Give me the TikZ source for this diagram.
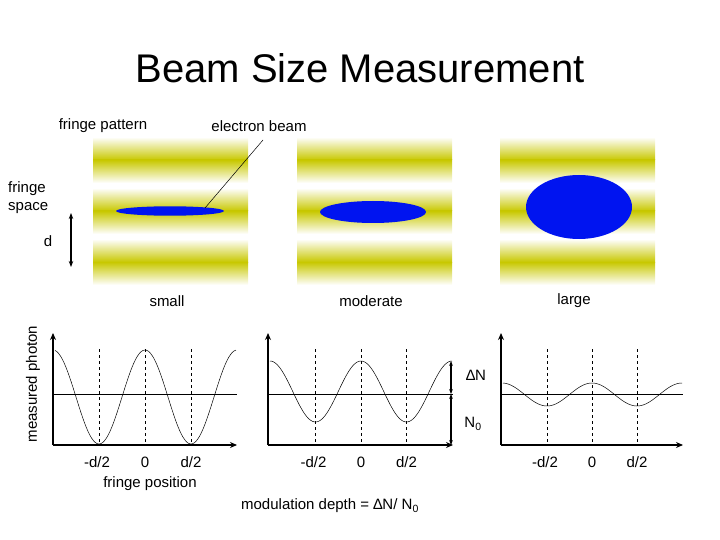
\documentclass[tikz,border=0pt]{standalone}
\usepackage{fontspec}
\setmainfont{Liberation Sans}
\usetikzlibrary{arrows.meta,shapes.geometric}
\definecolor{fy}{RGB}{200,200,0}
\definecolor{bb}{RGB}{0,20,240}
\tikzset{
 lbl/.style={font=\fontsize{15}{18}\selectfont, inner sep=0pt},
 axis/.style={line width=1.6pt,-{Stealth[length=7pt,width=6pt]}},
 dsh/.style={dashed, line width=0.5pt},
 curve/.style={line width=0.5pt},
 beam/.style={fill=bb, draw=none}
}
\begin{document}
\begin{tikzpicture}[x=1pt,y=-1pt]
\useasboundingbox (0,0) rectangle (720,540);
\node[font=\fontsize{40}{44}\selectfont] (title) at (360,68) {Beam Size Measurement};
% fringe panels
\foreach \px in {93,297,500}{
  \foreach \c in {160,211,262}{
    \shade[top color=white,bottom color=fy] (\px,\c-23) rectangle (\px+155,\c);
    \shade[top color=fy,bottom color=white] (\px,\c) rectangle (\px+155,\c+23);
  }
}
\node[beam, ellipse, minimum width=108pt, minimum height=8pt] (e1) at (170,211) {};
\node[beam, ellipse, minimum width=106pt, minimum height=22pt] (e2) at (373,212) {};
\node[beam, ellipse, minimum width=106pt, minimum height=64pt] (e3) at (579,207) {};
\node[lbl] (fp) at (103,126) {fringe pattern};
\node[lbl] (eb) at (259,126) {electron beam};
\coordinate (ebt) at (263,140);
\coordinate (ebe) at (205,208);
\draw[line width=0.5pt] (ebt) -- (ebe);
\node[lbl, align=left, anchor=west] (fs) at (8,198) {fringe\\space};
\node[lbl] (d) at (48,241) {d};
\coordinate (da) at (71,213); \coordinate (db) at (71,267);
\draw[line width=1.2pt,{Stealth[length=6pt]}-{Stealth[length=6pt]}] (da) -- (db);
\node[lbl] (s) at (167,301) {small};
\node[lbl] (m) at (371,301) {moderate};
\node[lbl] (l) at (574,301) {large};
\node[lbl, rotate=90] (mp) at (33,384) {measured photon};
% plots
\foreach \ox/\ex/\cx/\amp/\per/\mdl in {53/237/145/47/92/397, 268/453/361/30.5/91/391.5, 501/683/592/11.5/90/394.5}{
  \draw[line width=0.5pt] (\ox,394) -- (\ex,394);
  \foreach \k in {-1,0,1} \draw[dsh] (\cx+\k*\per/2,349) -- (\cx+\k*\per/2,445);
  \draw[curve] plot[domain=\ox+2:\ex-1,samples=100] (\x,{\mdl-\amp*cos((\x-\cx)/\per*360)});
  \draw[axis] (\ox,445) -- (\ox,333);
  \draw[axis] (\ox,445) -- (\ex,445);
  \node[lbl] at (\cx-\per/2-2,462) {-d/2};
  \node[lbl] at (\cx,462) {0};
  \node[lbl] at (\cx+\per/2,462) {d/2};
}
\coordinate (a1) at (451,361); \coordinate (a2) at (451,394); \coordinate (a3) at (451,445);
\draw[line width=1.2pt,{Stealth[length=5pt]}-{Stealth[length=5pt]}] (a1) -- (a2);
\draw[line width=1.2pt,{Stealth[length=5pt]}-{Stealth[length=5pt]}] (a2) -- (a3);
\node[lbl] (dn) at (476,375) {∆N};
\node[lbl] (n0) at (473,424) {N\textsubscript{0}};
\node[lbl] (fpos) at (150,484) {fringe position};
\node[lbl] (md) at (330,506) {modulation depth = ∆N/ N\textsubscript{0}};
\end{tikzpicture}
\end{document}
